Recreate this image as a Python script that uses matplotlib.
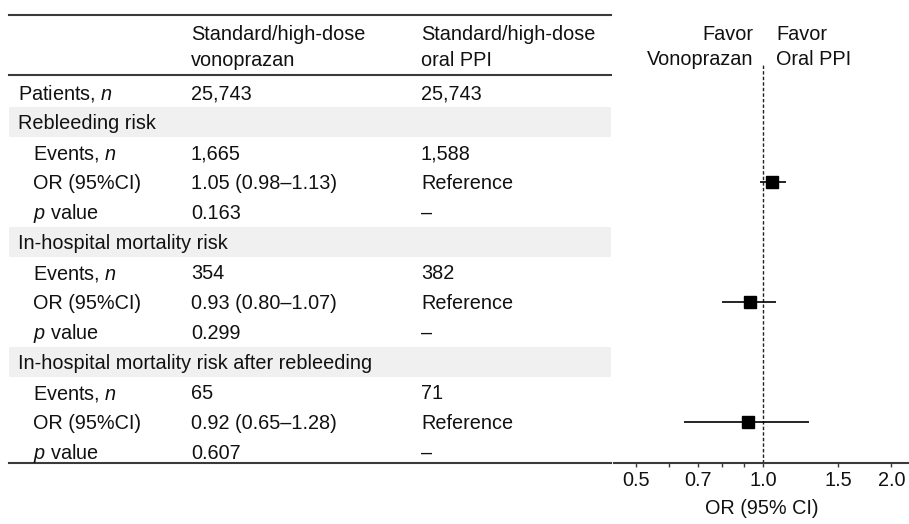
import matplotlib
matplotlib.use("Agg")
import matplotlib.pyplot as plt
import numpy as np

plt.rcParams['font.family'] = ['Liberation Sans', 'DejaVu Sans']
plt.rcParams['mathtext.fontset'] = 'custom'
plt.rcParams['mathtext.rm'] = 'Liberation Sans'
plt.rcParams['mathtext.it'] = 'Liberation Sans:italic'

# table content
col_head_vono = ["Standard/high-dose", "vonoprazan"]
col_head_ppi = ["Standard/high-dose", "oral PPI"]
row_labels = ["Patients, $n$", "Rebleeding risk", "Events, $n$", "OR (95%CI)", "$p$ value",
              "In-hospital mortality risk", "Events, $n$", "OR (95%CI)", "$p$ value",
              "In-hospital mortality risk after rebleeding", "Events, $n$", "OR (95%CI)", "$p$ value"]
vono_vals = ["25,743", "", "1,665", "1.05 (0.98\u20131.13)", "0.163",
             "", "354", "0.93 (0.80\u20131.07)", "0.299",
             "", "65", "0.92 (0.65\u20131.28)", "0.607"]
ppi_vals = ["25,743", "", "1,588", "Reference", "\u2013",
            "", "382", "Reference", "\u2013",
            "", "71", "Reference", "\u2013"]
section_rows = [1, 5, 9]
indent_rows = [2, 3, 4, 6, 7, 8, 10, 11, 12]

# forest plot data (rows where OR is drawn)
or_rows = [3, 7, 11]
or_est = [1.05, 0.93, 0.92]
ci_lo = [0.98, 0.80, 0.65]
ci_hi = [1.13, 1.07, 1.28]

xticks_major = [0.5, 0.7, 1.0, 1.5, 2.0]
xticks_minor = [0.6, 0.8, 0.9]

W, H = 909, 524
fs = 14.3
txt = '#111111'
linec = '#3a3a3a'
base = 7.2  # baseline offset from row centre (px)

fig = plt.figure(figsize=(W / 100, H / 100), dpi=100)
ax = fig.add_axes([0, 0, 1, 1])
ax.set_xlim(0, W)
ax.set_ylim(H, 0)
ax.axis('off')

row0, dy = 92, 30
x_lab, x_ind, x_c1, x_c2 = 18, 33, 191, 421
tbl_l, tbl_r = 9, 611


def cell(x, y, s, **kw):
    ax.text(x, y + base, s, fontsize=fs, va='baseline', ha='left', color=txt, **kw)


for r in section_rows:
    y = row0 + dy * r
    ax.fill_between([tbl_l, tbl_r], y - dy / 2, y + dy / 2, color='#f0f0f0', lw=0)

ax.plot([tbl_l, tbl_r], [15, 15], color=linec, lw=1.5)
ax.plot([tbl_l, tbl_r], [75, 75], color=linec, lw=1.5)
ax.plot([tbl_l, tbl_r], [463, 463], color=linec, lw=1.5)

for i, line in enumerate(col_head_vono):
    cell(x_c1, 33 + 26 * i, line)
for i, line in enumerate(col_head_ppi):
    cell(x_c2, 33 + 26 * i, line)

for i, lab in enumerate(row_labels):
    y = row0 + dy * i
    x = x_ind if i in indent_rows else x_lab
    cell(x, y, lab)
    cell(x_c1, y, vono_vals[i])
    cell(x_c2, y, ppi_vals[i])

# forest axes
ax_l, ax_bot, ax_top = 614, 463, 65
ax2 = fig.add_axes([ax_l / W, (H - ax_bot) / H, (W - ax_l) / W, (ax_bot - ax_top) / H])
ax2.set_facecolor('none')
ax2.set_xscale('log')
ax2.set_xlim(0.445, 2.2)
ax2.set_ylim((ax_bot - row0) / dy, (ax_top - row0) / dy)
for s in ['top', 'right', 'left']:
    ax2.spines[s].set_visible(False)
ax2.spines['bottom'].set_color(linec)
ax2.spines['bottom'].set_linewidth(1.5)
ax2.set_yticks([])
ax2.set_xticks(xticks_major)
ax2.set_xticklabels(["%.1f" % v for v in xticks_major], fontsize=fs, color=txt)
ax2.set_xticks(xticks_minor, minor=True)
ax2.set_xticklabels([], minor=True)
ax2.tick_params(axis='x', which='both', length=3, width=1, color=linec, pad=3)
ax2.set_xlabel("OR (95% CI)", fontsize=fs, color=txt, labelpad=6)

ax2.axvline(1.0, color='#222222', lw=1, ls=(0, (2.5, 1.5)))
est = np.array(or_est)
err = [est - np.array(ci_lo), np.array(ci_hi) - est]
ax2.errorbar(or_est, or_rows, xerr=err, fmt='s', color='black', ms=9,
             elinewidth=1.2, capsize=0, mec='black')

favor_left = ["Favor", "Vonoprazan"]
favor_right = ["Favor", "Oral PPI"]
for i in range(2):
    yy = H - (33 + 25 * i) - base
    ax2.annotate(favor_left[i], xy=(1.0, yy), xycoords=('data', 'figure pixels'),
                 xytext=(-10, 0), textcoords='offset pixels', ha='right', va='baseline',
                 fontsize=fs, color=txt, annotation_clip=False)
    ax2.annotate(favor_right[i], xy=(1.0, yy), xycoords=('data', 'figure pixels'),
                 xytext=(13, 0), textcoords='offset pixels', ha='left', va='baseline',
                 fontsize=fs, color=txt, annotation_clip=False)

fig.savefig("out.png", dpi=100)
